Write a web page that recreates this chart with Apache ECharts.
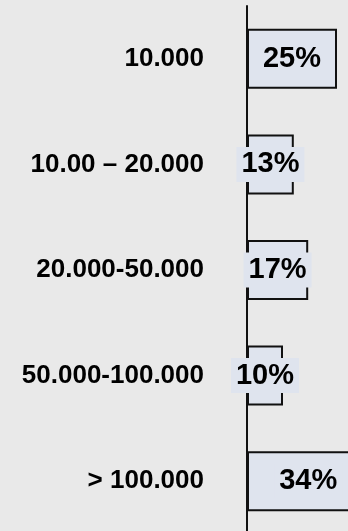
<!DOCTYPE html>
<html>
<head>
<meta charset="utf-8">
<script src="https://cdn.jsdelivr.net/npm/echarts@6/dist/echarts.min.js"></script>
<style>
  html, body { margin: 0; padding: 0; background: #e9e9e9; }
  #chart { width: 348px; height: 531px; }
</style>
</head>
<body>
<div id="chart"></div>
<script>
// Income brackets and the share of respondents in each
const categories = ['10.000', '10.00 – 20.000', '20.000-50.000', '50.000-100.000', '> 100.000'];
const shares = [25, 13, 17, 10, 34];

const chart = echarts.init(document.getElementById('chart'));
chart.setOption({
  backgroundColor: '#e9e9e9',
  animation: false,
  grid: { left: 247, top: 6, width: 144, height: 528, outerBoundsMode: 'none' },
  xAxis: {
    type: 'value',
    min: 0,
    max: 40,
    show: false
  },
  yAxis: {
    type: 'category',
    data: categories,
    inverse: true,
    axisLine: { show: true, lineStyle: { color: '#111', width: 2 } },
    axisTick: { show: false },
    axisLabel: {
      margin: 43,
      color: '#000',
      fontFamily: 'Liberation Sans, Arial, sans-serif',
      fontWeight: 'bold',
      fontSize: 26
    },
    splitLine: { show: false }
  },
  series: [{
    type: 'bar',
    data: shares,
    barWidth: 60,
    clip: false,
    itemStyle: {
      color: '#dfe4ee',
      borderColor: '#111',
      borderWidth: 2
    },
    label: {
      show: true,
      position: 'inside',
      formatter: '{c}%',
      color: '#000',
      fontFamily: 'Liberation Sans, Arial, sans-serif',
      fontWeight: 'bold',
      fontSize: 29,
      backgroundColor: '#dfe4ee',
      padding: [4, 5, 2, 5]
    }
  }]
});
</script>
</body>
</html>
